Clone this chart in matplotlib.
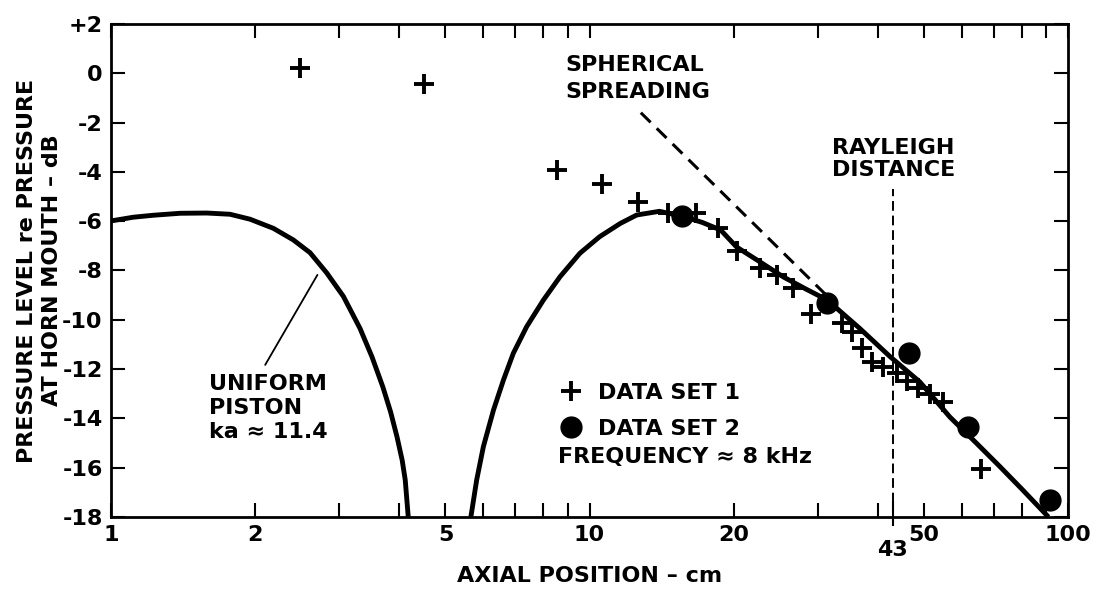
import matplotlib
matplotlib.use('Agg')
import matplotlib.pyplot as plt
import numpy as np
from matplotlib.ticker import LogLocator, NullFormatter

plt.rcParams['font.family'] = ['DejaVu Sans']
plt.rcParams['font.weight'] = 'bold'
plt.rcParams['axes.labelweight'] = 'bold'

# data set 1 (+)
set1_x = [2.48, 4.51, 8.55, 10.6, 12.6, 14.6, 16.7, 18.6, 20.3, 22.7, 24.6, 26.6,
          29.0, 33.7, 35.4, 37.1, 38.9, 41.1, 43.9, 46.1, 48.6, 51.5, 54.8, 65.8]
set1_y = [0.2, -0.43, -3.92, -4.49, -5.24, -5.67, -5.67, -6.28, -7.21, -7.9, -8.18, -8.71,
          -9.76, -10.13, -10.49, -11.14, -11.71, -11.91, -12.16, -12.48, -12.77, -13.01, -13.33, -16.05]

# data set 2 (filled circles)
set2_x = [15.6, 31.4, 46.5, 61.8, 91.7]
set2_y = [-5.79, -9.32, -11.35, -14.35, -17.31]

# uniform piston theory, ka = 11.4 (two lobes)
piston1_x = [1.0, 1.113, 1.226, 1.394, 1.585, 1.773, 1.952, 2.184, 2.404, 2.606, 2.824, 3.059,
             3.314, 3.51, 3.70, 3.84, 3.96, 4.06, 4.12, 4.18]
piston1_y = [-5.99, -5.84, -5.76, -5.68, -5.67, -5.72, -5.92, -6.29, -6.76, -7.28, -8.1, -9.05,
             -10.35, -11.5, -12.73, -13.74, -14.75, -15.7, -16.5, -18.0]
piston2_x = [5.65, 5.81, 6.0, 6.3, 6.61, 6.93, 7.39, 8.01, 8.68, 9.55, 10.5, 11.6, 12.55, 14.0,
             15.6, 17.2, 18.8, 20.3, 22.7, 25.4, 28.3, 31.4, 36.7, 42.5, 49.0, 56.6, 64.0,
             72.0, 80.0, 91.0]
piston2_y = [-18.0, -16.5, -15.15, -13.66, -12.44, -11.36, -10.28, -9.2, -8.25, -7.3, -6.63,
             -6.09, -5.75, -5.6, -5.8, -6.05, -6.36, -7.05, -7.65, -8.26, -8.75, -9.2, -10.35,
             -11.5, -12.52, -13.94, -14.96, -15.95, -16.86, -18.0]

# spherical spreading reference (20 dB/decade)
sph_x = [12.8, 32.0]
sph_y = [-1.6, -9.2]

# rayleigh distance
rayleigh_x = 43
rayleigh_y = [-18, -4.7]

xticks = [1, 2, 5, 10, 20, 50, 100]
xticklabels = ['1', '2', '5', '10', '20', '50', '100']
yticks = list(range(-18, 3, 2))
yticklabels = ['+2' if v > 0 else str(v) for v in yticks]

fig = plt.figure(figsize=(10.98, 5.93), dpi=100)
ax = fig.add_axes([0.1011, 0.1282, 0.8716, 0.8314])

ax.plot(piston1_x, piston1_y, color='black', lw=3.5, solid_capstyle='butt', solid_joinstyle='round')
ax.plot(piston2_x, piston2_y, color='black', lw=3.5, solid_capstyle='butt', solid_joinstyle='round')
ax.plot(sph_x, sph_y, color='black', lw=2.2, dashes=(4.5, 2.8))
ax.plot([rayleigh_x, rayleigh_x], rayleigh_y, color='black', lw=1.4, dashes=(5, 2.5))

h1, = ax.plot(set1_x, set1_y, ls='none', marker='+', ms=14, mew=2.8, color='black')
h2, = ax.plot(set2_x, set2_y, ls='none', marker='o', ms=15, color='black')

ax.set_xscale('log')
ax.set_xlim(1, 100)
ax.set_ylim(-18, 2)
ax.set_xticks(xticks)
ax.set_xticklabels(xticklabels)
ax.xaxis.set_minor_locator(LogLocator(base=10, subs=np.arange(2, 10)))
ax.xaxis.set_minor_formatter(NullFormatter())
ax.set_yticks(yticks)
ax.set_yticklabels(yticklabels)
ax.tick_params(which='both', direction='in', length=10, width=1.5, top=True, right=True,
               labelsize=16, pad=6)
for s in ax.spines.values():
    s.set_linewidth(2)

# tick and label at the rayleigh distance
ax.plot([rayleigh_x, rayleigh_x], [-0.016, 0.03], transform=ax.get_xaxis_transform(),
        color='black', lw=1.5, clip_on=False)
ax.annotate('43', xy=(rayleigh_x, 0), xycoords=('data', 'axes fraction'), xytext=(0, -24),
            textcoords='offset points', ha='center', va='center', fontsize=16)

ax.set_xlabel('AXIAL POSITION \u2013 cm', fontsize=16, labelpad=15)
ax.set_ylabel('PRESSURE LEVEL re PRESSURE\nAT HORN MOUTH \u2013 dB', fontsize=16,
              labelpad=0, linespacing=1.3)

ax.text(8.89, -0.21, 'SPHERICAL\nSPREADING', fontsize=16, ha='left', va='center', linespacing=1.4)
ax.text(32.1, -3.48, 'RAYLEIGH\nDISTANCE', fontsize=16, ha='left', va='center', linespacing=1.1)
ax.text(1.60, -13.58, 'UNIFORM\nPISTON\nka \u2248 11.4', fontsize=16, ha='left', va='center',
        linespacing=1.25)
ax.annotate('', xy=(2.70, -8.18), xytext=(2.10, -11.83),
            arrowprops=dict(arrowstyle='-', lw=1.3, color='black', shrinkA=0, shrinkB=0))

ax.legend([h1, h2], ['DATA SET 1', 'DATA SET 2'], loc='upper left', bbox_to_anchor=(0.469, 0.272),
          frameon=False, fontsize=16, handlelength=1.0, handletextpad=0.7, borderpad=0,
          borderaxespad=0, labelspacing=0.72, numpoints=1)
ax.text(8.6, -15.57, 'FREQUENCY \u2248 8 kHz', fontsize=16, ha='left', va='center')

fig.savefig('out.png', dpi=100)
